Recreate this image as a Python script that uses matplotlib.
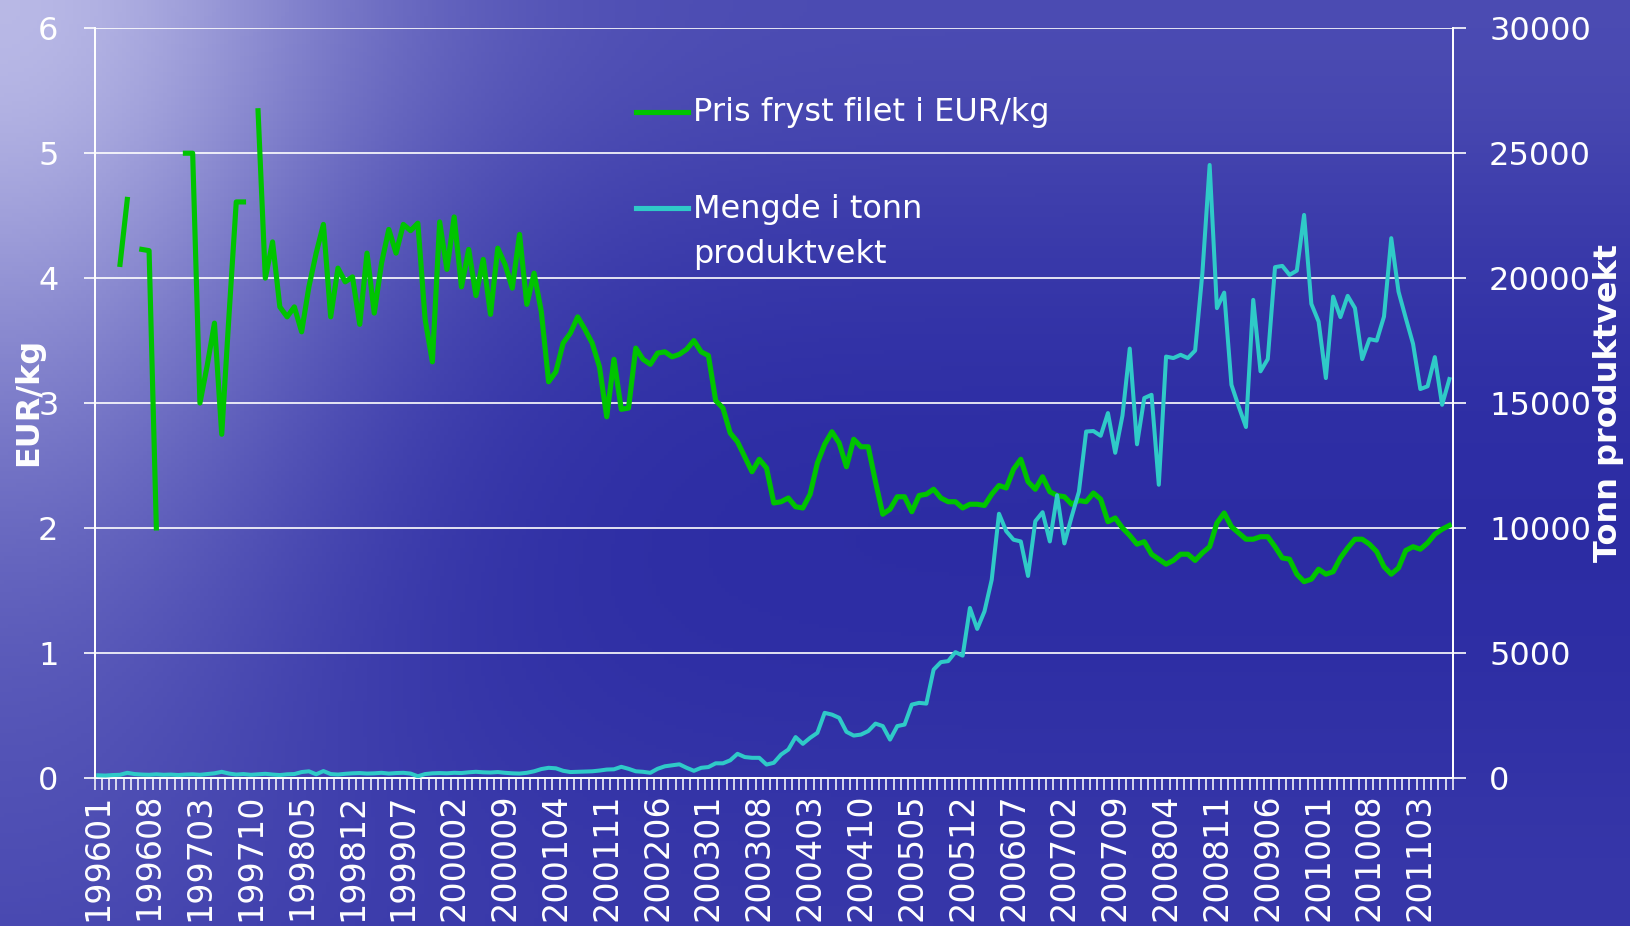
import numpy as np
import matplotlib.pyplot as plt
from matplotlib.lines import Line2D

nan = np.nan

# categories: months 199601 .. 201107
months = [f'{1996 + k // 12}{k % 12 + 1:02d}' for k in range(187)]

# price frozen fillet, EUR/kg (left axis)
pris = [nan, nan, nan, 4.11, 4.63, nan, 4.23, 4.22, 2.00, nan, nan, nan,
        5.00, 5.00, 3.00, 3.30, 3.64, 2.75, 3.70, 4.61, 4.61, nan, 5.34, 4.00,
        4.29, 3.77, 3.69, 3.77, 3.57, 3.93, 4.20, 4.43, 3.69, 4.08, 3.97, 4.01,
        3.63, 4.20, 3.72, 4.12, 4.39, 4.20, 4.43, 4.38, 4.44, 3.67, 3.33, 4.45,
        4.07, 4.49, 3.93, 4.23, 3.86, 4.15, 3.71, 4.24, 4.11, 3.92, 4.35, 3.79,
        4.04, 3.73, 3.17, 3.25, 3.48, 3.56, 3.69, 3.59, 3.48, 3.29, 2.89, 3.35,
        2.95, 2.96, 3.44, 3.35, 3.31, 3.40, 3.41, 3.37, 3.39, 3.43, 3.50, 3.41,
        3.38, 3.02, 2.96, 2.76, 2.69, 2.57, 2.45, 2.55, 2.48, 2.20, 2.21, 2.24,
        2.17, 2.16, 2.27, 2.52, 2.67, 2.77, 2.68, 2.49, 2.71, 2.65, 2.65, 2.37,
        2.11, 2.15, 2.25, 2.25, 2.13, 2.26, 2.27, 2.31, 2.24, 2.21, 2.21, 2.16,
        2.19, 2.19, 2.18, 2.27, 2.34, 2.32, 2.47, 2.55, 2.37, 2.31, 2.41, 2.29,
        2.26, 2.25, 2.19, 2.22, 2.21, 2.28, 2.23, 2.05, 2.08, 2.00, 1.94, 1.87,
        1.89, 1.79, 1.75, 1.71, 1.74, 1.79, 1.79, 1.74, 1.80, 1.85, 2.04, 2.12,
        2.01, 1.96, 1.91, 1.91, 1.93, 1.93, 1.85, 1.76, 1.75, 1.63, 1.57, 1.59,
        1.67, 1.63, 1.65, 1.76, 1.84, 1.91, 1.91, 1.87, 1.81, 1.69, 1.63, 1.68,
        1.82, 1.85, 1.83, 1.88, 1.95, 1.99, 2.02]

# volume in tonnes product weight (right axis)
mengde = [100, 90, 110, 120, 200, 150, 130, 120, 140, 120, 130, 110,
          130, 140, 120, 150, 180, 240, 170, 130, 150, 120, 140, 160,
          130, 110, 140, 150, 230, 260, 140, 270, 150, 130, 160, 180,
          190, 170, 180, 200, 170, 190, 200, 170, 60, 150, 180, 190,
          180, 200, 190, 220, 240, 220, 210, 230, 200, 180, 170, 200,
          260, 350, 400, 380, 280, 230, 240, 250, 260, 290, 330, 340,
          440, 360, 260, 240, 200, 360, 460, 500, 540, 400, 280, 400,
          430, 580, 580, 700, 960, 830, 800, 800, 530, 600, 930, 1130,
          1630, 1360, 1600, 1800, 2600, 2530, 2400, 1840, 1690, 1730, 1870, 2170,
          2070, 1530, 2070, 2130, 2930, 3000, 2970, 4330, 4630, 4670, 5030, 4890,
          6800, 5960, 6660, 7930, 10570, 9870, 9530, 9460, 8080, 10270, 10630, 9460,
          11310, 9380, 10450, 11450, 13860, 13880, 13690, 14600, 13010, 14500, 17180, 13350,
          15200, 15330, 11730, 16860, 16800, 16930, 16800, 17100, 20200, 24530, 18800, 19420,
          15730, 14860, 14040, 19130, 16270, 16760, 20440, 20490, 20130, 20300, 22530, 18970,
          18260, 16000, 19260, 18440, 19290, 18800, 16760, 17560, 17500, 18460, 21600, 19460,
          18400, 17370, 15560, 15670, 16840, 14930, 15960]

label_pris = 'Pris fryst filet i EUR/kg'
label_mengde = 'Mengde i tonn\nproduktvekt'

GREEN = '#00c400'
CYAN = '#2fcac8'
W, H = 1630, 926

fig = plt.figure(figsize=(W / 100, H / 100), dpi=100)

# background: blue sea-like gradient, light only in the upper left corner
bg = fig.add_axes([0, 0, 1, 1], zorder=-10)
u, v = np.meshgrid(np.linspace(0, 1, 400), np.linspace(0, 1, 230))
w = (0.75 * np.exp(-((u / 0.22) ** 2 + (v / 0.75) ** 2))
     + 0.22 * np.exp(-(v / 0.3) ** 2) + 0.08 * np.exp(-((1 - v) / 0.25) ** 2))
w = np.clip(w, 0, 1)[..., None]
deep = np.array([0.17, 0.17, 0.64])
light = np.array([0.74, 0.74, 0.91])
bg.imshow(deep + w * (light - deep), aspect='auto', extent=[0, 1, 1, 0])
bg.set_axis_off()

ax = fig.add_axes([94.6 / W, 1 - 777.8 / H, (1453 - 94.6) / W, (777.8 - 28.3) / H])
ax.patch.set_alpha(0)
ax2 = ax.twinx()

x = np.arange(len(months))
ax.plot(x, pris, color=GREEN, lw=3.7, solid_joinstyle='round', zorder=3)
ax2.plot(x, mengde, color=CYAN, lw=2.9, solid_joinstyle='round', zorder=3)

# axes limits and ticks
ax.set_xlim(-0.5, len(months) - 0.5)
ax.set_ylim(0, 6)
ax2.set_ylim(0, 30000)
ax.set_yticks(range(0, 7))
ax2.set_yticks(range(0, 30001, 5000))
ax.set_xticks(x[::7])
ax.set_xticklabels(months[::7], rotation=90)
ax.set_xticks(np.arange(-0.5, len(months)), minor=True)

ax.grid(axis='y', color='white', lw=1.2)
ax.set_axisbelow(True)

for a in (ax, ax2):
    for s in a.spines.values():
        s.set_color('white')
        s.set_linewidth(1.3)
    a.spines['top'].set_visible(False)

ax.tick_params(axis='x', which='major', length=0, pad=11, labelsize=24, colors='white')
ax.tick_params(axis='x', which='minor', length=8.5, width=1.1, color='white', direction='out')
ax.tick_params(axis='y', length=8, width=1.2, color='white', labelcolor='white', labelsize=23, pad=18)
ax2.tick_params(axis='y', length=9, width=1.2, color='white', labelcolor='white', labelsize=23, pad=17)

# axis titles
fig.text(29 / W, 1 - 402 / H, 'EUR/kg', color='white', fontsize=23, fontweight='bold',
         rotation=90, ha='center', va='center')
fig.text(1609 / W, 1 - 403 / H, 'Tonn produktvekt', color='white', fontsize=23, fontweight='bold',
         rotation=90, ha='center', va='center')

# legend
fig.add_artist(Line2D([636 / W, 688 / W], [1 - 112 / H, 1 - 112 / H], color=GREEN, lw=3.7,
                      transform=fig.transFigure))
fig.add_artist(Line2D([636 / W, 688 / W], [1 - 208 / H, 1 - 208 / H], color=CYAN, lw=3.7,
                      transform=fig.transFigure))
fig.text(693 / W, 1 - 113 / H, label_pris, color='white', fontsize=23, ha='left', va='center')
fig.text(693 / W, 1 - 194 / H, label_mengde, color='white', fontsize=23, ha='left', va='top',
         linespacing=1.6)

fig.savefig('out.png', dpi=100)
